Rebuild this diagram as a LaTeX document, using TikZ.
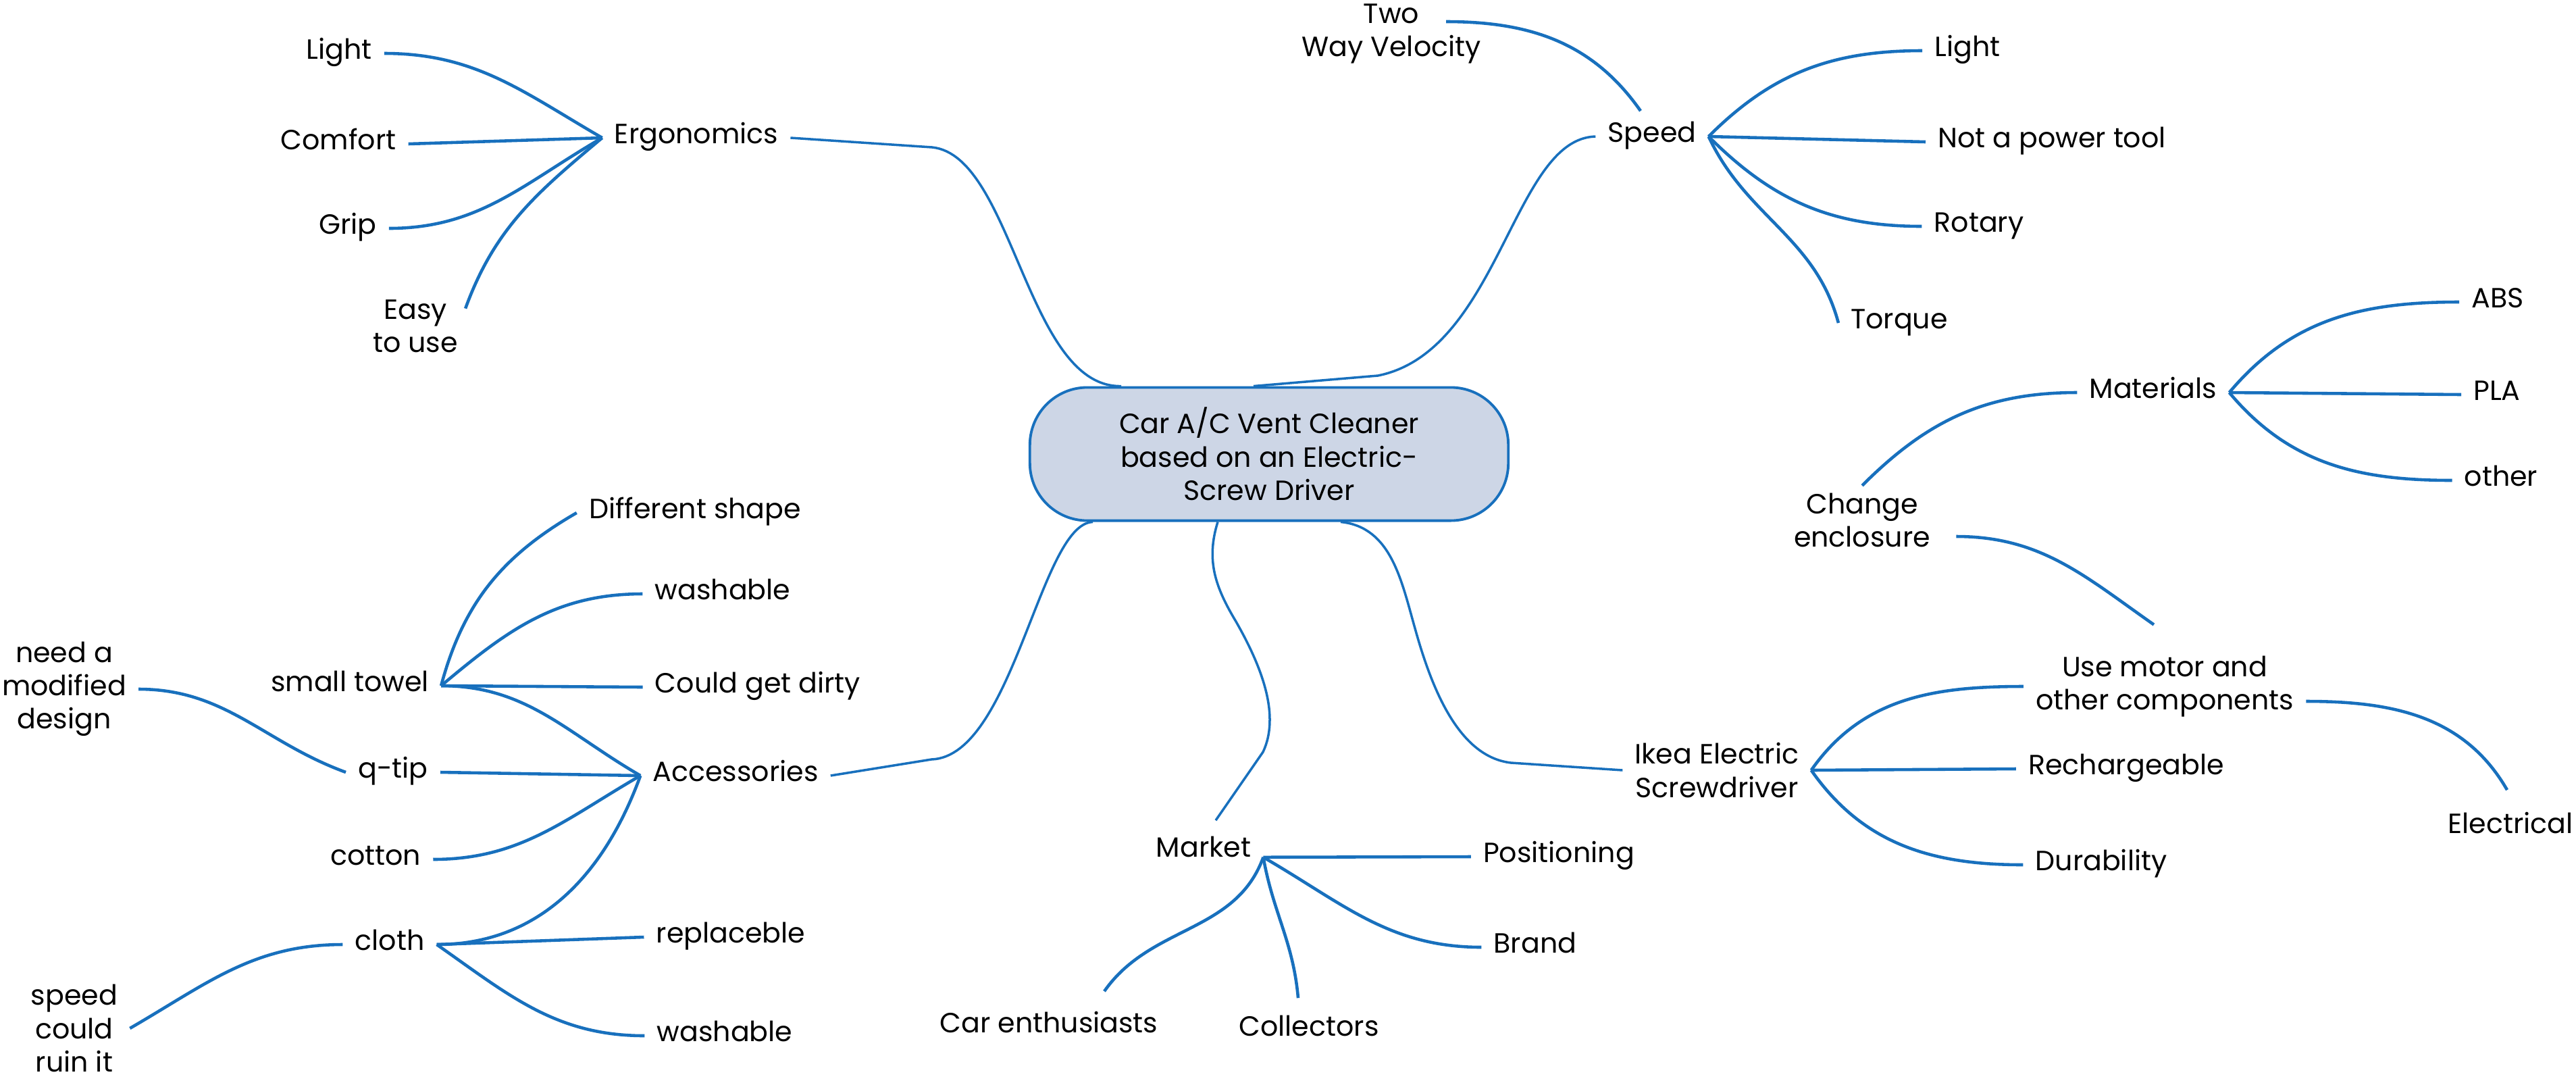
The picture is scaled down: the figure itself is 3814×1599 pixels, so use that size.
\documentclass[tikz,border=0pt]{standalone}
\usepackage{fontspec}
\setmainfont{Poppins}
\usepackage{tikz}
\usetikzlibrary{calc}
\definecolor{mapblue}{RGB}{24,112,189}
\definecolor{rootfill}{RGB}{205,214,230}

\begin{document}
\begin{tikzpicture}[x=0.01cm,y=-0.01cm]
  \tikzset{every node/.style = {font=\fontsize{11.7}{14}\selectfont}}
  \tikzset{leaf/.style = {inner xsep=5pt,inner ysep=3pt,text height=0.75em,text depth=0.25em}}
  \tikzset{leafm/.style = {inner xsep=5pt,inner ysep=3pt,align=center}}
  \tikzset{root/.style = {draw=mapblue,fill=rootfill,line width=1.1pt,rounded corners=0.85cm,
      minimum width=7.08cm,minimum height=1.97cm,align=center}}
  \tikzset{link/.style = {draw=mapblue,line width=1.3pt}}
  \tikzset{trunk/.style = {draw=mapblue,line width=1pt}}

  \useasboundingbox (0,0) rectangle (3814,1599);

  \node[root] (center) at (1879,672) {Car A/C Vent Cleaner\\based on an Electric-\\Screw Driver};

  % ergonomics
  \node[leaf] (ergo) at (1031,204) {Ergonomics};
  \node[leaf] (eLight) at (502,79) {Light};
  \node[leaf] (eComfort) at (501,213) {Comfort};
  \node[leaf] (eGrip) at (515,338) {Grip};
  \node[leafm] (eEasy) at (615,483) {Easy\\to use};

  % speed
  \node[leaf] (speed) at (2446,202) {Speed};
  \node[leafm] (sTwo) at (2060,50) {Two\\Way Velocity};
  \node[leaf] (sLight) at (2913,75) {Light};
  \node[leaf] (sNot) at (3038,210) {Not a power tool};
  \node[leaf] (sRot) at (2930,335) {Rotary};
  \node[leaf] (sTorque) at (2812,478) {Torque};

  % screwdriver
  \node[leafm] (ikea) at (2542,1140) {Ikea Electric\\Screwdriver};
  \node[leafm] (use) at (3205,1016) {Use motor and\\other components};
  \node[leaf] (iRech) at (3148,1138) {Rechargeable};
  \node[leaf] (iDur) at (3111,1280) {Durability};
  \node[leaf] (elec) at (3717,1225) {Electrical};
  \node[leafm] (chg) at (2757,770) {Change\\enclosure};
  \node[leaf] (mat) at (3188,581) {Materials};
  \node[leaf] (mABS) at (3698,447) {ABS};
  \node[leaf] (mPLA) at (3697,584) {PLA};
  \node[leaf] (mOther) at (3703,711) {other};

  % market
  \node[leaf] (market) at (1782,1260) {Market};
  \node[leaf] (kPos) at (2308,1268) {Positioning};
  \node[leaf] (kBrand) at (2273,1402) {Brand};
  \node[leaf] (kCar) at (1553,1520) {Car enthusiasts};
  \node[leaf] (kColl) at (1938,1525) {Collectors};

  % accessories
  \node[leaf] (acc) at (1089,1148) {Accessories};
  \node[leaf] (aTowel) at (518,1015) {small towel};
  \node[leaf] (aShape) at (1029,759) {Different shape};
  \node[leaf] (aWash) at (1070,879) {washable};
  \node[leaf] (aDirty) at (1122,1017) {Could get dirty};
  \node[leaf] (aQtip) at (582,1143) {q-tip};
  \node[leafm] (aNeed) at (95,1020) {need a\\modified\\design};
  \node[leaf] (aCotton) at (556,1272) {cotton};
  \node[leaf] (aCloth) at (577,1398) {cloth};
  \node[leaf] (aRepl) at (1082,1387) {replaceble};
  \node[leaf] (aWash2) at (1073,1533) {washable};
  \node[leafm] (aSpeed) at (110,1522) {speed\\could\\ruin it};

  % main branches
  \draw[trunk] (ergo.east) -- (1380,218) .. controls (1500,230) and (1520,574) .. ($(center.north)+(-219,0)$);
  \draw[trunk] ($(center.north)+(-23,0)$) -- (2040,556) .. controls (2220,520) and (2240,205) .. (speed.west);
  \draw[trunk] ($(center.south)+(-261,0)$) .. controls (1540,775) and (1500,1120) .. (1379,1124) -- (acc.east);
  \draw[trunk] ($(center.south)+(-76,0)$) .. controls (1785,830) and (1800,870) .. (1830,920)
     .. controls (1870,990) and (1895,1060) .. (1870,1113) -- ($(market.north)+(18,-17)$);
  \draw[trunk] ($(center.south)+(106,0)$) .. controls (2060,780) and (2075,860) .. (2095,930)
     .. controls (2120,1020) and (2160,1120) .. (2237,1129) -- (ikea.west);

  % straight twigs
  \foreach \a/\b in {eComfort.east/ergo.west, speed.east/sNot.west, mat.east/mPLA.west,
      ikea.east/iRech.west, market.base east/kPos.west, aQtip.east/acc.west,
      aTowel.east/aDirty.west, aCloth.east/aRepl.west}
    \draw[link] (\a) -- (\b);

  % curved twigs
  \foreach \a/\b/\o/\i in {eLight.east/ergo.west/0/150, eGrip.east/ergo.west/0/210,
      speed.east/sLight.west/45/180, speed.east/sRot.west/-45/180, speed.east/sTorque.west/-65/105,
      chg.north/mat.west/45/180, mat.east/mABS.west/50/180, mat.east/mOther.west/-50/180,
      ikea.east/use.west/55/180, ikea.east/iDur.west/-55/180,
      market.base east/kBrand.west/-30/180,
      aTowel.east/acc.west/0/150, aCotton.east/acc.west/0/210, aCloth.east/acc.west/0/250,
      aTowel.east/aShape.west/75/210, aTowel.east/aWash.west/40/180, aNeed.east/aQtip.west/0/160,
      aCloth.east/aWash2.west/-35/180, aSpeed.east/aCloth.west/30/180}
    \draw[link] (\a) to[out=\o,in=\i] (\b);

  \draw[link] ($(eEasy.north east)+(-7,24)$) to[out=70,in=220] (ergo.west);
  \draw[link] ($(sTwo.center)+(81,-18)$) to[out=0,in=125] ($(speed.north)+(-17,-9)$);
  \draw[link] ($(chg.east)+(20,24)$) to[out=0,in=145] ($(use.north)+(-16,-35)$);
  \draw[link] ($(use.east)+(0,22)$) to[out=0,in=120] ($(elec.north)+(-5,-27)$);
  \draw[link] (market.base east) to[out=-110,in=55] ($(kCar.north)+(82,-24)$);
  \draw[link] (market.base east) to[out=-80,in=95] ($(kColl.north)+(-16,-19)$);
\end{tikzpicture}
\end{document}
